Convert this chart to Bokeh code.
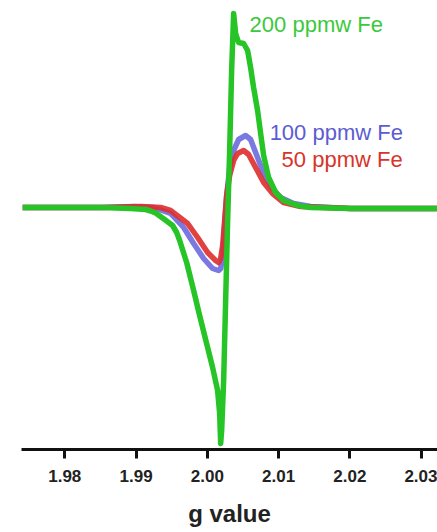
from bokeh.plotting import figure
from bokeh.models import Range1d, FixedTicker, Label
from bokeh.embed import file_html
from bokeh.resources import INLINE

# ---- data (g value vs. EPR signal, arbitrary units) ----
g_200 = [1.97410, 1.97943, 1.98503, 1.98924, 1.99135, 1.99205, 1.99275, 1.99401,
         1.99513, 1.99570, 1.99612, 1.99710, 1.99808, 1.99892, 1.99990, 2.00074,
         2.00144, 2.00173, 2.00187, 2.00201, 2.00229, 2.00257, 2.00285, 2.00313,
         2.00341, 2.00369, 2.00397, 2.00439, 2.00509, 2.00565, 2.00607, 2.00649,
         2.00705, 2.00748, 2.00790, 2.00860, 2.00958, 2.01070, 2.01266, 2.01449,
         2.02010, 2.02711, 2.03230]
s_200 = [0, 0, 0, -0.01, -0.02, -0.035, -0.055, -0.12,
         -0.18, -0.25, -0.33, -0.55, -0.83, -1.08, -1.36, -1.60,
         -1.83, -2.06, -2.36, -2.23, -1.73, -0.93, -0.13, 0.57,
         1.37, 1.94, 1.74, 1.65, 1.64, 1.57, 1.40, 1.20,
         0.97, 0.74, 0.52, 0.30, 0.15, 0.07, 0.02, 0,
         -0.01, -0.01, -0.01]

g_100 = [1.97410, 1.98503, 1.98966, 1.99247, 1.99485, 1.99668, 1.99808, 1.99948,
         2.00074, 2.00158, 2.00187, 2.00215, 2.00243, 2.00271, 2.00313, 2.00369,
         2.00439, 2.00537, 2.00607, 2.00705, 2.00790, 2.00916, 2.01028, 2.01210,
         2.01449, 2.02010, 2.03230]
s_100 = [0, 0, 0.01, 0, -0.06, -0.20, -0.36, -0.51,
         -0.61, -0.63, -0.61, -0.50, -0.18, 0.12, 0.39, 0.57,
         0.68, 0.72, 0.68, 0.50, 0.34, 0.19, 0.10, 0.04,
         0.01, -0.01, -0.01]

g_50 = [1.97410, 1.98503, 1.99064, 1.99345, 1.99485, 1.99724, 1.99864, 2.00004,
        2.00116, 2.00158, 2.00187, 2.00215, 2.00243, 2.00271, 2.00313, 2.00369,
        2.00425, 2.00509, 2.00579, 2.00677, 2.00790, 2.00916, 2.01070, 2.01309,
        2.02010, 2.03230]
s_50 = [0, 0, 0.01, 0, -0.03, -0.16, -0.30, -0.45,
        -0.53, -0.55, -0.51, -0.38, -0.13, 0.12, 0.32, 0.47,
        0.54, 0.57, 0.53, 0.40, 0.25, 0.14, 0.05, 0.01,
        -0.01, -0.01]

tick_values = [1.98, 1.99, 2.00, 2.01, 2.02, 2.03]
tick_labels = ["1.98", "1.99", "2.00", "2.01", "2.02", "2.03"]

series_names = ["200 ppmw Fe", "100 ppmw Fe", "50 ppmw Fe"]
label_g = [2.00593, 2.00874, 2.01042]
label_s = [1.83, 0.75, 0.48]

GREEN = "#26c426"
BLUE = "#6a6ade"
RED = "#dd2c2c"
TXT_GREEN = "#3cc83c"
TXT_BLUE = "#5c5cd2"
TXT_RED = "#d8342a"

p = figure(width=437, height=532, output_backend="svg", toolbar_location=None,
           x_range=Range1d(1.97393, 2.03229), y_range=Range1d(-2.42, 2.07),
           y_axis_location=None, min_border_left=21, min_border_right=0,
           min_border_top=0, min_border_bottom=83)
p.outline_line_color = None
p.xgrid.visible = False
p.ygrid.visible = False
p.background_fill_color = "white"
p.border_fill_color = "white"

p.line(g_100, s_100, line_color=BLUE, line_width=5.5, line_alpha=0.9, line_join="round")
p.line(g_50, s_50, line_color=RED, line_width=5.5, line_alpha=0.9, line_join="round")
p.line(g_200, s_200, line_color=GREEN, line_width=5.5, line_join="round")

ax = p.xaxis[0]
ax.ticker = FixedTicker(ticks=tick_values)
ax.major_label_overrides = {v: t for v, t in zip(tick_values, tick_labels)}
ax.axis_line_width = 3
ax.axis_line_color = "#111111"
ax.major_tick_line_width = 3
ax.major_tick_line_color = "#111111"
ax.major_tick_in = 0
ax.major_tick_out = 9
ax.minor_tick_line_color = None
ax.major_label_text_font = "Liberation Sans"
ax.major_label_text_font_style = "bold"
ax.major_label_text_font_size = "17px"
ax.major_label_text_color = "#222222"
ax.major_label_standoff = 11
ax.axis_label = "g value"
ax.axis_label_text_font = "Liberation Sans"
ax.axis_label_text_font_style = "bold"
ax.axis_label_text_font_size = "24px"
ax.axis_label_text_color = "#222222"
ax.axis_label_standoff = 15

for name, gx, sy, col in zip(series_names, label_g, label_s, [TXT_GREEN, TXT_BLUE, TXT_RED]):
    p.add_layout(Label(x=gx, y=sy, text=name, text_color=col, text_font="Liberation Sans",
                       text_font_size="22px", text_align="left", text_baseline="alphabetic"))

open("out.html", "w").write(file_html(p, INLINE))
